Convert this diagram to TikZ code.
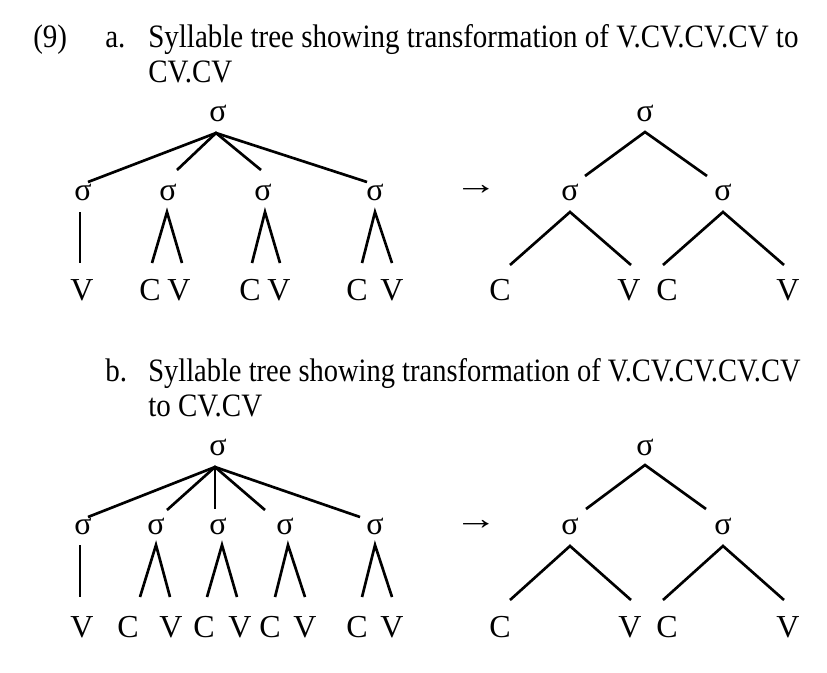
\documentclass[tikz,border=0pt]{standalone}
\usepackage{fontspec}
\setmainfont{Liberation Serif}
\newfontfamily\condfont[FakeStretch=0.888]{Liberation Serif}
\newfontfamily\condfontb[FakeStretch=0.872]{Liberation Serif}
\begin{document}
\begin{tikzpicture}[x=0.75pt,y=-0.75pt,
  lab/.style={inner sep=0pt,font=\fontsize{24}{28}\selectfont},
  txt/.style={inner sep=0pt,anchor=base west,font=\condfont\fontsize{24.5}{28}\selectfont},
  txtb/.style={txt,font=\condfontb\fontsize{24.5}{28}\selectfont},
  edge/.style={line width=2pt}]
\useasboundingbox (0,0) rectangle (827,672);
% ---------- text ----------
\node[txt] (num) at (33,47) {(9)};
\node[txt] (la) at (105,47) {a.};
\node[txt] (ta1) at (148,47) {Syllable tree showing transformation of V.CV.CV.CV to};
\node[txt] (ta2) at (148,82) {CV.CV};
\node[txt] (lb) at (105,381) {b.};
\node[txtb] (tb1) at (148,381) {Syllable tree showing transformation of V.CV.CV.CV.CV};
\node[txt] (tb2) at (148,416) {to CV.CV};
% ---------- tree a, left ----------
\node[lab] (ar) at (218,113) {σ};
\coordinate (arv) at (216,133);
\coordinate (ae1) at (88,182); \coordinate (ae2) at (177,170);
\coordinate (ae3) at (261,170); \coordinate (ae4) at (367,182);
\node[lab] (as1) at (83,192) {σ};
\node[lab] (as2) at (168,192) {σ};
\node[lab] (as3) at (263,192) {σ};
\node[lab] (as4) at (375,192) {σ};
\draw[edge] (ae1) -- (arv) -- (ae4);
\draw[edge] (ae2) -- (arv) -- (ae3);
\coordinate (av1t) at (80,212); \coordinate (av1b) at (80,263);
\draw[edge] (av1t) -- (av1b);
\coordinate (ap2) at (167,212); \coordinate (al2) at (152,263); \coordinate (am2) at (182,263);
\coordinate (ap3) at (265,212); \coordinate (al3) at (252,263); \coordinate (am3) at (280,263);
\coordinate (ap4) at (375,212); \coordinate (al4) at (362,263); \coordinate (am4) at (392,263);
\draw[edge] (al2) -- (ap2) -- (am2);
\draw[edge] (al3) -- (ap3) -- (am3);
\draw[edge] (al4) -- (ap4) -- (am4);
\node[lab] (aL1) at (82,290) {V};
\node[lab] (aL2) at (150,290) {C};
\node[lab] (aL3) at (179,290) {V};
\node[lab] (aL4) at (250,290) {C};
\node[lab] (aL5) at (279,290) {V};
\node[lab] (aL6) at (357,290) {C};
\node[lab] (aL7) at (392,290) {V};
\node[lab] (aarr) at (476,190) {\scalebox{1.35}[1]{→}};
% ---------- tree a, right ----------
\node[lab] (br) at (645,113) {σ};
\coordinate (brv) at (645,132);
\coordinate (be1) at (585,176); \coordinate (be2) at (707,176);
\draw[edge] (be1) -- (brv) -- (be2);
\node[lab] (bs1) at (570,192) {σ};
\node[lab] (bs2) at (723,192) {σ};
\coordinate (bp1) at (570,212); \coordinate (bl1) at (510,265); \coordinate (bm1) at (631,265);
\coordinate (bp2) at (723,212); \coordinate (bl2) at (663,265); \coordinate (bm2) at (784,265);
\draw[edge] (bl1) -- (bp1) -- (bm1);
\draw[edge] (bl2) -- (bp2) -- (bm2);
\node[lab] (bL1) at (500,290) {C};
\node[lab] (bL2) at (629,290) {V};
\node[lab] (bL3) at (667,290) {C};
\node[lab] (bL4) at (788,290) {V};
% ---------- tree b, left ----------
\node[lab] (cr) at (218,447) {σ};
\coordinate (crv) at (215,467);
\coordinate (ce1) at (88,517); \coordinate (ce2) at (167,510); \coordinate (ce3) at (215,509);
\coordinate (ce4) at (265,510); \coordinate (ce5) at (360,517);
\draw[edge] (ce1) -- (crv) -- (ce5);
\draw[edge] (ce2) -- (crv) -- (ce4);
\draw[edge] (crv) -- (ce3);
\node[lab] (cs1) at (83,526) {σ};
\node[lab] (cs2) at (156,526) {σ};
\node[lab] (cs3) at (218,526) {σ};
\node[lab] (cs4) at (285,526) {σ};
\node[lab] (cs5) at (375,526) {σ};
\coordinate (cv1t) at (80,545); \coordinate (cv1b) at (80,597);
\draw[edge] (cv1t) -- (cv1b);
\coordinate (cp2) at (156,545); \coordinate (cl2) at (140,597); \coordinate (cm2) at (170,597);
\coordinate (cp3) at (222,545); \coordinate (cl3) at (207,597); \coordinate (cm3) at (237,597);
\coordinate (cp4) at (288,545); \coordinate (cl4) at (275,597); \coordinate (cm4) at (305,597);
\coordinate (cp5) at (375,545); \coordinate (cl5) at (362,597); \coordinate (cm5) at (392,597);
\draw[edge] (cl2) -- (cp2) -- (cm2);
\draw[edge] (cl3) -- (cp3) -- (cm3);
\draw[edge] (cl4) -- (cp4) -- (cm4);
\draw[edge] (cl5) -- (cp5) -- (cm5);
\node[lab] (cL1) at (82,627) {V};
\node[lab] (cL2) at (128,627) {C};
\node[lab] (cL3) at (171,627) {V};
\node[lab] (cL4) at (204,627) {C};
\node[lab] (cL5) at (240,627) {V};
\node[lab] (cL6) at (270,627) {C};
\node[lab] (cL7) at (305,627) {V};
\node[lab] (cL8) at (357,627) {C};
\node[lab] (cL9) at (392,627) {V};
\node[lab] (carr) at (476,525) {\scalebox{1.35}[1]{→}};
% ---------- tree b, right ----------
\node[lab] (dr) at (645,447) {σ};
\coordinate (drv) at (645,465);
\coordinate (de1) at (586,509); \coordinate (de2) at (706,509);
\draw[edge] (de1) -- (drv) -- (de2);
\node[lab] (ds1) at (570,526) {σ};
\node[lab] (ds2) at (723,526) {σ};
\coordinate (dp1) at (570,546); \coordinate (dl1) at (510,600); \coordinate (dm1) at (631,600);
\coordinate (dp2) at (723,546); \coordinate (dl2) at (663,600); \coordinate (dm2) at (784,600);
\draw[edge] (dl1) -- (dp1) -- (dm1);
\draw[edge] (dl2) -- (dp2) -- (dm2);
\node[lab] (dL1) at (500,627) {C};
\node[lab] (dL2) at (630,627) {V};
\node[lab] (dL3) at (667,627) {C};
\node[lab] (dL4) at (788,627) {V};
\end{tikzpicture}
\end{document}
